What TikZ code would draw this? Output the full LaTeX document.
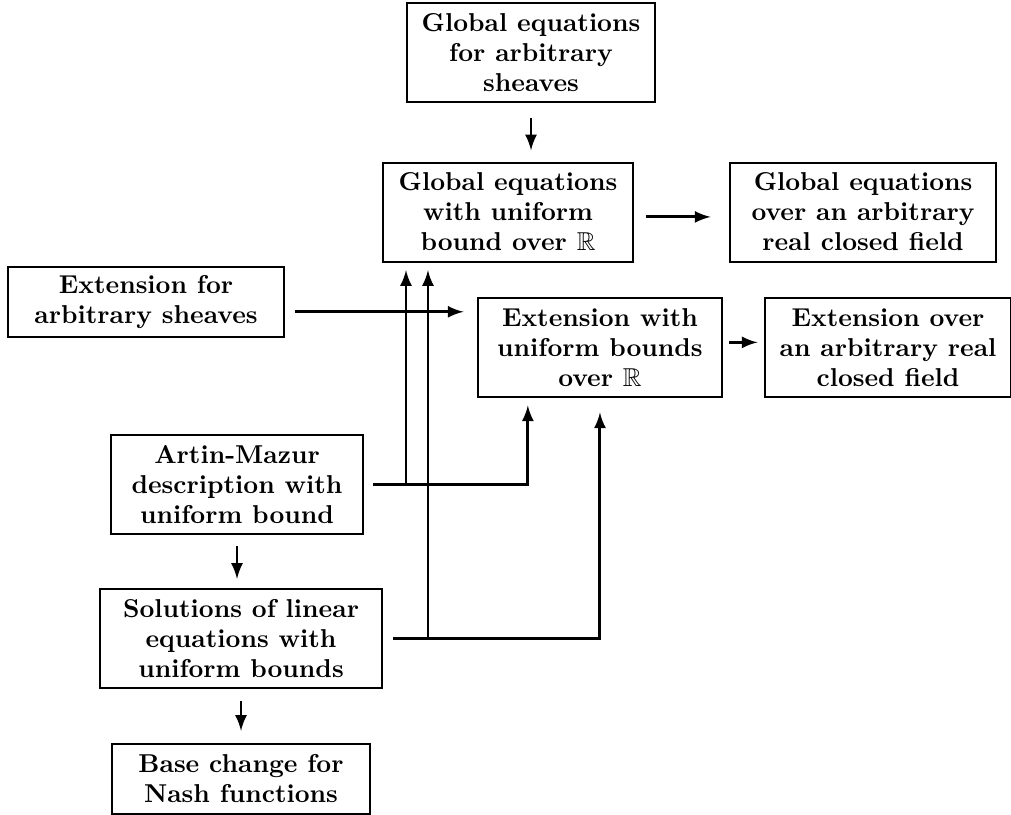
\documentclass[tikz,border=0pt]{standalone}
\usepackage{tikz}
\usepackage{amssymb}
\usepackage{amsmath}
\usetikzlibrary{calc}

\begin{document}
\begin{tikzpicture}[>=latex,
  box/.style={draw,line width=0.8pt,align=center,inner xsep=6pt,font=\fontsize{10.5}{12.2}\selectfont\bfseries},
  tall/.style={box,minimum height=1.414cm},
  short/.style={box,minimum height=1.01cm},
  arr/.style={->,line width=1.2pt}]
\useasboundingbox (0,0) rectangle (14.443,-11.629);

\node[tall,minimum width=3.3cm] (glob) at (7.586,-0.75) {Global equations\\for arbitrary\\sheaves};
\node[tall,minimum width=3.57cm] (globR) at (7.257,-3.029) {Global equations\\with uniform\\bound over $\mathbb{R}$};
\node[tall,minimum width=3.81cm] (globF) at (12.33,-3.029) {Global equations\\over an arbitrary\\real closed field};
\node[short,minimum width=3.94cm] (ext) at (2.086,-4.314) {Extension for\\arbitrary sheaves};
\node[tall,minimum width=3.49cm] (extR) at (8.571,-4.971) {Extension with\\uniform bounds\\over $\mathbb{R}$};
\node[tall,minimum width=3.43cm] (extF) at (12.686,-4.971) {Extension over\\an arbitrary real\\closed field};
\node[tall,minimum width=3.6cm] (artin) at (3.386,-6.921) {Artin-Mazur\\description with\\uniform bound};
\node[tall,minimum width=4.03cm] (lin) at (3.443,-9.121) {Solutions of linear\\equations with\\uniform bounds};
\node[short,minimum width=3.69cm] (nash) at (3.443,-11.129) {Base change for\\Nash functions};

\coordinate (gR1) at ([xshift=-1.457cm]globR.south);
\coordinate (gR2) at ([xshift=-1.143cm]globR.south);
\coordinate (eR1) at ([xshift=-1.03cm]extR.south);

\draw[arr,shorten <=0.21cm,shorten >=0.16cm] (glob.south) -- (glob.south |- globR.north);
\draw[arr,shorten <=0.17cm,shorten >=0.26cm] ([yshift=-0.07cm]globR.east) -- ([yshift=-0.07cm]globR.east -| globF.west);
\draw[arr,shorten <=0.14cm,shorten >=0.19cm] ([yshift=-0.14cm]ext.east) -- ([yshift=-0.14cm]ext.east -| extR.west);
\draw[arr,shorten <=0.09cm,shorten >=0.09cm] ([yshift=0.08cm]extR.east) -- ([yshift=0.08cm]extR.east -| extF.west);

\draw[arr,shorten <=0.13cm,shorten >=0.1cm] (artin.east) -- (artin.east -| eR1) -- (eR1);
\draw[arr,shorten >=0.11cm] (artin.east -| gR1) -- (gR1);
\draw[arr,shorten <=0.14cm,shorten >=0.2cm] (lin.east) -- (lin.east -| extR.south) -- (extR.south);
\draw[arr,shorten >=0.11cm] (lin.east -| gR2) -- (gR2);

\draw[arr,shorten <=0.16cm,shorten >=0.13cm] (artin.south) -- (artin.south |- lin.north);
\draw[arr,shorten <=0.17cm,shorten >=0.17cm] (lin.south) -- (lin.south |- nash.north);
\end{tikzpicture}
\end{document}
